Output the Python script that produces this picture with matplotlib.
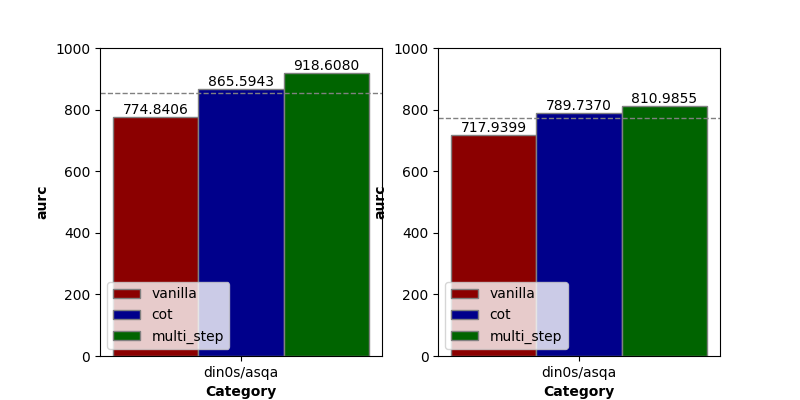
import numpy as np
import matplotlib
matplotlib.use("Agg")
import matplotlib.pyplot as plt

methods = ["vanilla", "cot", "multi_step"]
colors = ["darkred", "darkblue", "darkgreen"]
category = "din0s/asqa"
left_vals = [774.8406, 865.5943, 918.6080]
right_vals = [717.9399, 789.7370, 810.9855]

fig, axes = plt.subplots(1, 2, figsize=(8, 4), dpi=100)
w = 0.3
for ax, vals in zip(axes, [left_vals, right_vals]):
    for i, (m, v, c) in enumerate(zip(methods, vals, colors)):
        bars = ax.bar((i - 1) * w, v, w, color=c, edgecolor="grey", label=m)
        ax.bar_label(bars, fmt="%.4f")
    ax.axhline(np.mean(vals), color="grey", linestyle="--", linewidth=1)
    ax.set_ylim(0, 1000)
    ax.set_xticks([0])
    ax.set_xticklabels([category])
    ax.set_xlabel("Category", fontweight="bold")
    ax.set_ylabel("aurc", fontweight="bold")
    ax.legend(loc="lower left")

fig.savefig("out.png")
